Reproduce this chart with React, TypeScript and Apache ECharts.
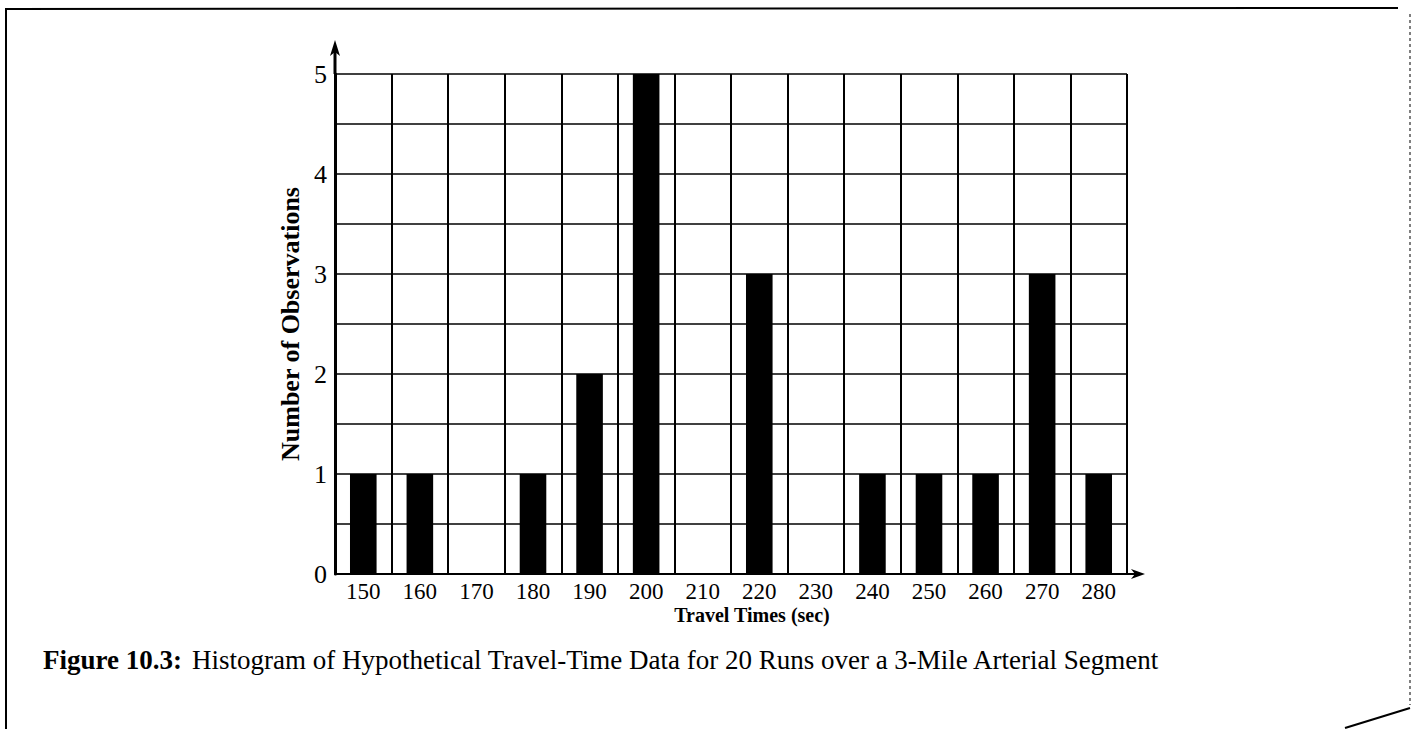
import React, { useEffect, useRef } from "react";
import * as echarts from "echarts";

const categories = ["150", "160", "170", "180", "190", "200", "210", "220", "230", "240", "250", "260", "270", "280"];
const observations = [1, 1, 0, 1, 2, 5, 0, 3, 0, 1, 1, 1, 3, 1];
const yTicks = [0, 1, 2, 3, 4, 5];
const xTitle = "Travel Times (sec)";
const yTitle = "Number of Observations";
const captionBold = "Figure 10.3:";
const captionText = "Histogram of Hypothetical Travel-Time Data for 20 Runs over a 3-Mile Arterial Segment";

const SERIF = "'Liberation Serif', 'DejaVu Serif', serif";
const GRID = { left: 335, top: 74, right: 289, bottom: 155 };

export default function App() {
  const ref = useRef<HTMLDivElement>(null);
  useEffect(() => {
    if (!ref.current) return;
    const chart = echarts.init(ref.current, null, { renderer: "svg" });
    const W = 1416, H = 729;
    const gx0 = GRID.left, gx1 = W - GRID.right, gy0 = GRID.top, gy1 = H - GRID.bottom;
    chart.setOption({
      animation: false,
      backgroundColor: "#ffffff",
      title: {
        left: 38,
        top: 641,
        text: `{b|${captionBold}}  {r|${captionText}}`,
        textStyle: {
          rich: {
            b: { fontFamily: SERIF, fontWeight: "bold", fontSize: 27, color: "#000" },
            r: { fontFamily: SERIF, fontWeight: "normal", fontSize: 27, color: "#000" },
          },
        },
      },
      grid: { ...GRID, containLabel: false },
      xAxis: {
        type: "category",
        data: categories,
        boundaryGap: true,
        name: xTitle,
        nameLocation: "middle",
        nameGap: 31,
        nameMoveOverlap: false,
        nameTextStyle: { fontFamily: SERIF, fontWeight: "bold", fontSize: 20, color: "#000", padding: [0, 0, 0, 42] },
        axisLine: { show: true, lineStyle: { color: "#000", width: 2 } },
        axisTick: { show: false },
        axisLabel: { fontFamily: SERIF, fontSize: 23, color: "#000", margin: 6, interval: 0 },
        splitLine: { show: true, interval: 0, lineStyle: { color: "#000", width: 2 } },
      },
      yAxis: {
        type: "value",
        min: 0,
        max: 5,
        interval: 1,
        name: yTitle,
        nameLocation: "middle",
        nameGap: 28,
        nameTextStyle: { fontFamily: SERIF, fontWeight: "bold", fontSize: 26, color: "#000" },
        axisLine: { show: true, lineStyle: { color: "#000", width: 3 } },
        axisTick: { show: false },
        axisLabel: {
          fontFamily: SERIF,
          fontSize: 26,
          color: "#000",
          margin: 8,
          formatter: (v: number) => (yTicks.includes(v) ? String(v) : ""),
        },
        splitLine: { show: true, lineStyle: { color: "#000", width: 1.5 } },
        minorTick: { show: false, splitNumber: 2 },
        minorSplitLine: { show: true, lineStyle: { color: "#000", width: 1.5 } },
      },
      series: [
        {
          type: "bar",
          data: observations,
          barWidth: "47%",
          itemStyle: { color: "#000" },
        },
      ],
      graphic: [
        { type: "line", shape: { x1: gx1, y1: gy1, x2: gx1 + 14, y2: gy1 }, style: { stroke: "#000", lineWidth: 2 } },
        { type: "polygon", shape: { points: [[gx1 + 18, gy1], [gx1 + 4, gy1 - 5], [gx1 + 8, gy1], [gx1 + 4, gy1 + 5]] }, style: { fill: "#000" } },
        { type: "line", shape: { x1: gx0, y1: gy0, x2: gx0, y2: gy0 - 24 }, style: { stroke: "#000", lineWidth: 3 } },
        { type: "polygon", shape: { points: [[gx0, gy0 - 34], [gx0 - 5, gy0 - 18], [gx0, gy0 - 22], [gx0 + 5, gy0 - 18]] }, style: { fill: "#000" } },
        { type: "polyline", shape: { points: [[6, H], [6, 9], [1398, 8]] }, style: { stroke: "#000", lineWidth: 2, fill: null } },
        { type: "line", shape: { x1: 1410, y1: 14, x2: 1410, y2: 705 }, style: { stroke: "#555", lineWidth: 1.5, lineDash: [3, 3] } },
        { type: "line", shape: { x1: 1345, y1: 728, x2: 1410, y2: 708 }, style: { stroke: "#000", lineWidth: 2 } },
      ],
    });
    return () => chart.dispose();
  }, []);
  return <div ref={ref} style={{ position: "fixed", left: 0, top: 0, width: 1416, height: 729 }} />;
}
